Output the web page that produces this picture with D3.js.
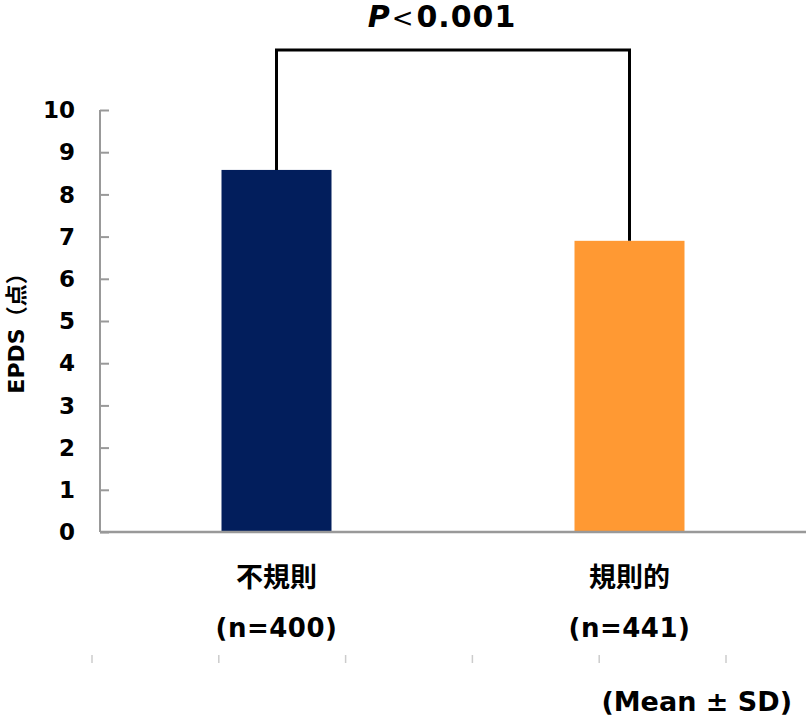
<!DOCTYPE html>
<html><head><meta charset="utf-8">
<script src="https://cdn.jsdelivr.net/npm/d3@7"></script>
<style>
html,body{margin:0;padding:0;background:#fff;}
svg text{font-family:"DejaVu Sans","Noto Sans CJK JP",sans-serif;font-weight:bold;fill:#000;}
</style></head>
<body><svg id="c" width="806" height="720"></svg>
<script>
const categories = ["不規則", "規則的"];
const sampleLabels = ["(n=400)", "(n=441)"];
const values = [8.58, 6.9];
const colors = ["#021E5C", "#FF9933"];
const yTicks = [0,1,2,3,4,5,6,7,8,9,10];
const pText = ["P", "<", "0.001"];
const footTicks = [0,1,2,3,4,5];

const svg = d3.select("#c");
const y = d3.scaleLinear().domain([0,10]).range([532,110]);
const x = d3.scalePoint().domain(categories).range([100,806]).padding(0.5);
const barW = 110;

// y axis
const yAxis = d3.axisRight(y).tickValues(yTicks).tickSize(9).tickFormat("");
const ga = svg.append("g").attr("transform","translate(100,0)").call(yAxis);
ga.select(".domain").attr("stroke","#999").attr("stroke-width",2).attr("d","M0,110V532");
ga.selectAll(".tick line").attr("stroke","#999").attr("stroke-width",2);
svg.append("g").selectAll("text").data(yTicks).join("text")
  .attr("x",75).attr("y",d=>y(d)).attr("dy","0.36em").attr("text-anchor","end")
  .style("font-size","23px").text(d=>d);

// bars
svg.append("g").selectAll("rect").data(categories).join("rect")
  .attr("x",d=>x(d)-barW/2).attr("width",barW)
  .attr("y",(d,i)=>y(values[i])).attr("height",(d,i)=>y(0)-y(values[i]))
  .attr("fill",(d,i)=>colors[i]);

// x axis line
svg.append("line").attr("x1",100).attr("x2",806).attr("y1",y(0)).attr("y2",y(0))
  .attr("stroke","#999").attr("stroke-width",2.5);

// category labels
svg.append("g").selectAll("text").data(categories).join("text")
  .attr("x",d=>x(d)).attr("y",587).attr("text-anchor","middle")
  .style("font-size","27px").text(d=>d);
svg.append("g").selectAll("text").data(sampleLabels).join("text")
  .attr("x",(d,i)=>x(categories[i])).attr("y",637).attr("text-anchor","middle")
  .style("font-size","26px").style("letter-spacing","0.5px").text(d=>d);

// bracket
const topY = y(10) - 60;
const x1 = x(categories[0]), x2 = x(categories[1]);
svg.append("path")
  .attr("d",`M${x1},${y(values[0])}V${topY}H${x2}V${y(values[1])}`)
  .attr("fill","none").attr("stroke","#000").attr("stroke-width",3);

// P text
const pt = svg.append("text").attr("x",(x1+x2)/2 - 11).attr("y",27).attr("text-anchor","middle");
pt.append("tspan").style("font-style","italic").style("font-size","30px").text(pText[0]);
pt.append("tspan").attr("dx",2).style("font-weight","normal").style("font-size","26px").text(pText[1]);
pt.append("tspan").attr("dx",3).style("font-size","30px").style("letter-spacing","1px").text(pText[2]);

// faint ticks at bottom
const fx = d3.scaleLinear().domain([0,5]).range([92,726]);
svg.append("g").selectAll("line").data(footTicks).join("line")
  .attr("x1",d=>fx(d)).attr("x2",d=>fx(d)).attr("y1",655).attr("y2",663)
  .attr("stroke","#ccc").attr("stroke-width",1.5);

// y label
svg.append("text").attr("transform","translate(24,328) rotate(-90)")
  .attr("text-anchor","middle").style("font-size","22px").text("EPDS（点）");

// footnote
svg.append("text").attr("x",792).attr("y",711).attr("text-anchor","end")
  .style("font-size","27px").text("(Mean ± SD)");
</script></body></html>
